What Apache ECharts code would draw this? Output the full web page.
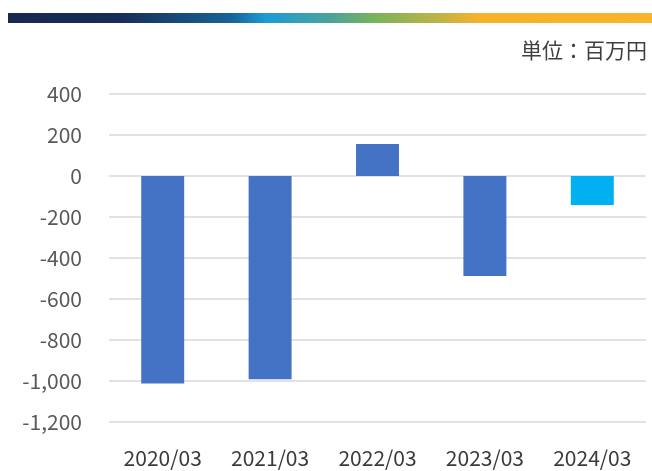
<!DOCTYPE html>
<html><head><meta charset="utf-8">
<script src="https://cdn.jsdelivr.net/npm/echarts@6/dist/echarts.min.js"></script>
<style>html,body{margin:0;padding:0;background:#fff}#c{width:652px;height:471px}</style>
</head><body><div id="c"></div>
<script>
const categories = ['2020/03','2021/03','2022/03','2023/03','2024/03'];
const values = [-1012, -992, 156, -488, -141];
const barColors = ['#4472C4','#4472C4','#4472C4','#4472C4','#00B0F0'];
const unitLabel = '単位：百万円';

const chart = echarts.init(document.getElementById('c'), null, {renderer:'canvas'});
const font = "'Noto Sans CJK JP', 'Noto Sans', sans-serif";
chart.setOption({
  animation:false,
  backgroundColor:'#fff',
  graphic:[
    {type:'rect', left:8, top:13, shape:{width:644, height:10},
     style:{fill:new echarts.graphic.LinearGradient(0,0,1,0,[
       {offset:0,color:'#17294f'},
       {offset:0.17,color:'#182c55'},
       {offset:0.35,color:'#17659b'},
       {offset:0.4,color:'#1d9ad6'},
       {offset:0.5,color:'#4aa39a'},
       {offset:0.57,color:'#79b35b'},
       {offset:0.66,color:'#b6b449'},
       {offset:0.73,color:'#f6b22b'},
       {offset:1,color:'#f8b42b'}
     ])}},
    {type:'text', right:5, top:40, style:{text:unitLabel, fill:'#404040', font:'21px '+font}}
  ],
  grid:{left:109, right:6, top:94, bottom:49},
  xAxis:{type:'category', data:categories,
    axisLine:{show:false}, axisTick:{show:false},
    axisLabel:{color:'#3a3a3a', fontSize:21, fontFamily:font, margin:26}},
  yAxis:{type:'value', min:-1200, max:400, interval:200,
    axisLine:{show:false}, axisTick:{show:false},
    splitLine:{lineStyle:{color:'#d9d9d9', width:1.5}},
    axisLabel:{color:'#595959', fontSize:21, fontFamily:font, margin:27,
      formatter:v=>v.toLocaleString('en-US')}},
  series:[{type:'bar', barWidth:'40%',
    data:values.map((v,i)=>({value:v, itemStyle:{color:barColors[i]}}))}]
});
</script></body></html>
